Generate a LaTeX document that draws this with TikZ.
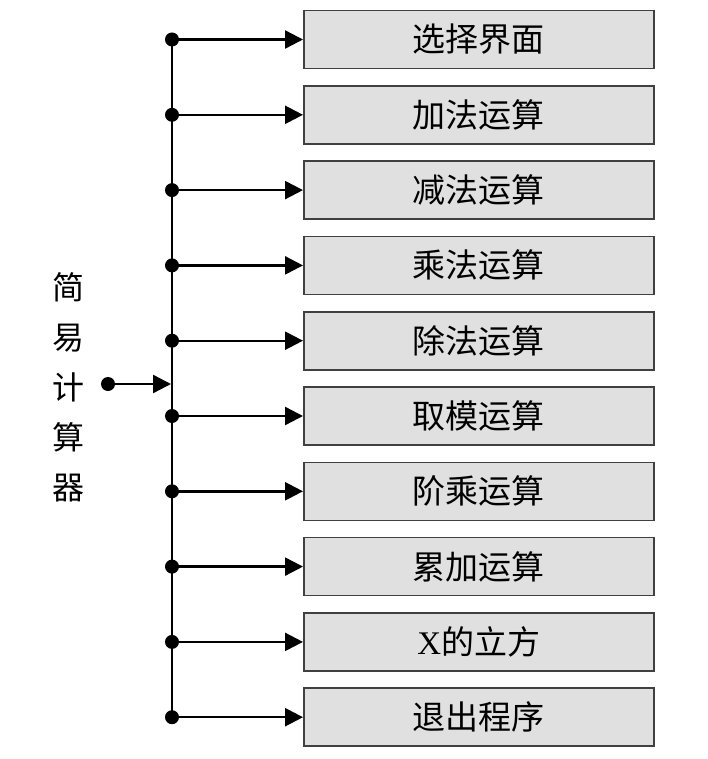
\documentclass[tikz,border=0pt]{standalone}
\usepackage{fontspec}
\newfontfamily\cjk{Noto Sans CJK SC}
\newfontfamily\latn{Liberation Serif}
\usetikzlibrary{arrows.meta}
\begin{document}
\begin{tikzpicture}[x=1pt,y=-1pt,
  item/.style={draw=black!75, line width=1.6pt, fill=black!12, minimum width=350pt, minimum height=58pt, inner sep=0pt, anchor=west, font=\cjk\fontsize{33}{36}\selectfont},
  dotn/.style={circle, fill=black, inner sep=0pt, minimum size=14pt},
  conn/.style={line width=2.4pt, -{Triangle[length=18pt,width=18pt]}},
  trunk/.style={line width=2.6pt},
  lbl/.style={align=center, font=\cjk\fontsize{32}{50}\selectfont, inner sep=0pt}]
\useasboundingbox (0,0) rectangle (708,759);
\foreach \t [count=\i from 0] in {选择界面,加法运算,减法运算,乘法运算,除法运算,取模运算,阶乘运算,累加运算,{{\latn X}的立方},退出程序}{
  \node[item] (b\i) at (303,{39.5+75.3*\i}) {\t};
  \node[dotn] (d\i) at (172,{39.5+75.3*\i}) {};
  \draw[conn] (d\i.center) -- (b\i.west);
}
\draw[trunk] (d0.center) -- (d9.center);
\node[dotn] (src) at (108,384) {};
\coordinate (jn) at (171,384);
\draw[conn] (src.center) -- (jn);
\node[lbl] (title) at (68,387) {简\\易\\计\\算\\器};
\end{tikzpicture}
\end{document}
